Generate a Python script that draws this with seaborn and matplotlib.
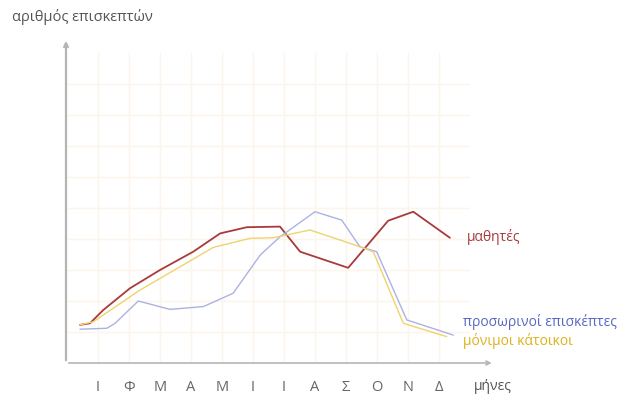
import matplotlib
matplotlib.use("Agg")
import matplotlib.pyplot as plt
import seaborn as sns
import pandas as pd

# Month initials (Greek) shown along the horizontal axis
months = ["Ι", "Φ", "Μ", "Α", "Μ", "Ι", "Ι", "Α", "Σ", "Ο", "Ν", "Δ"]

# Hand-drawn style traces: x in month units (0 = January), y in grid units
students_x = [-0.57, -0.25, 0.18, 1.04, 2.01, 3.08, 3.95, 4.81, 5.88, 6.53, 8.08, 9.37, 10.18, 11.36]
students_y = [1.23, 1.28, 1.71, 2.41, 3.00, 3.59, 4.18, 4.38, 4.40, 3.59, 3.07, 4.59, 4.88, 4.04]

visitors_x = [-0.57, 0.29, 0.56, 1.31, 2.33, 3.41, 4.37, 5.24, 5.88, 7.01, 7.87, 8.46, 9.00, 9.97, 11.47]
visitors_y = [1.09, 1.12, 1.28, 2.00, 1.73, 1.82, 2.25, 3.48, 4.07, 4.88, 4.61, 3.75, 3.59, 1.39, 0.90]

residents_x = [-0.57, -0.14, 1.36, 3.73, 4.91, 5.66, 6.85, 8.14, 8.89, 9.86, 11.26]
residents_y = [1.23, 1.33, 2.35, 3.73, 4.02, 4.04, 4.29, 3.86, 3.59, 1.28, 0.85]

series_names = ["μαθητές", "προσωρινοί επισκέπτες", "μόνιμοι κάτοικοι"]

frames = []
for name, xs, ys in zip(series_names,
                        [students_x, visitors_x, residents_x],
                        [students_y, visitors_y, residents_y]):
    frames.append(pd.DataFrame({"month": xs, "visitors": ys, "group": name}))
df = pd.concat(frames, ignore_index=True)

sns.set_style("white")
plt.rcParams["font.family"] = ["Open Sans", "DejaVu Sans"]

W, H = 632, 399
fig = plt.figure(figsize=(W / 100, H / 100), dpi=100)

# Axes box in pixels: left 66, right 500, baseline 363, top 35
px_left, px_right, px_bottom, px_top = 66, 500, 363, 35
ax = fig.add_axes([px_left / W, 1 - px_bottom / H,
                   (px_right - px_left) / W, (px_bottom - px_top) / H])
step = 31.0
x0 = (px_left - 97.7) / step
x1 = x0 + (px_right - px_left) / step
ax.set_xlim(x0, x1)
ax.set_ylim(0, (px_bottom - px_top) / step)
for s in ax.spines.values():
    s.set_visible(False)

grid_c = "#fdf4ea"
for m in range(12):
    ax.plot([m, m], [0, 10.0], color=grid_c, lw=1.0, zorder=0)
for v in range(1, 10):
    ax.plot([x0, 11.98], [v, v], color=grid_c, lw=1.0, zorder=0)

palette = {"μαθητές": "#a83a3c",
           "προσωρινοί επισκέπτες": "#aab3e4",
           "μόνιμοι κάτοικοι": "#eed36e"}
sns.lineplot(data=df, x="month", y="visitors", hue="group", units="group",
             estimator=None, sort=False, palette=palette, legend=False,
             linewidth=1.0, ax=ax, zorder=3)
for line in ax.lines:
    if line.get_color() == palette["μαθητές"]:
        line.set_linewidth(1.3)

# Axis lines with open arrowheads
axis_c = "#b5b5b5"
ax.annotate("", xy=(12.8, 0), xytext=(x0, 0),
            arrowprops=dict(arrowstyle="->", color=axis_c, lw=1.2,
                            mutation_scale=7), annotation_clip=False)
ax.annotate("", xy=(x0, (px_bottom - 38) / step), xytext=(x0, 0),
            arrowprops=dict(arrowstyle="->", color=axis_c, lw=1.6,
                            mutation_scale=7), annotation_clip=False)

ax.set_xticks(range(12))
ax.set_xticklabels(months, fontsize=10.5, color="#666666")
ax.tick_params(axis="x", length=0, pad=12)
ax.set_yticks([])
ax.set_xlabel("")
ax.set_ylabel("")

# Series labels at the right end of each trace
ax.text((467 - 97.7) / step, (px_bottom - 237) / step, "μαθητές",
        color="#a83a3c", fontsize=10, va="center", ha="left")
ax.text((463 - 97.7) / step, (px_bottom - 322) / step, "προσωρινοί επισκέπτες",
        color="#5a68c4", fontsize=10, va="center", ha="left")
ax.text((463 - 97.7) / step, (px_bottom - 341) / step, "μόνιμοι κάτοικοι",
        color="#dcb21c", fontsize=10, va="center", ha="left")

ax.text((474 - 97.7) / step, (px_bottom - 387) / step, "μήνες",
        color="#555555", fontsize=10, va="center", ha="left", clip_on=False)
fig.text(12 / W, 1 - 17 / H, "αριθμός επισκεπτών", color="#555555",
         fontsize=10.5, va="center", ha="left")

fig.savefig("out.png", dpi=100)
